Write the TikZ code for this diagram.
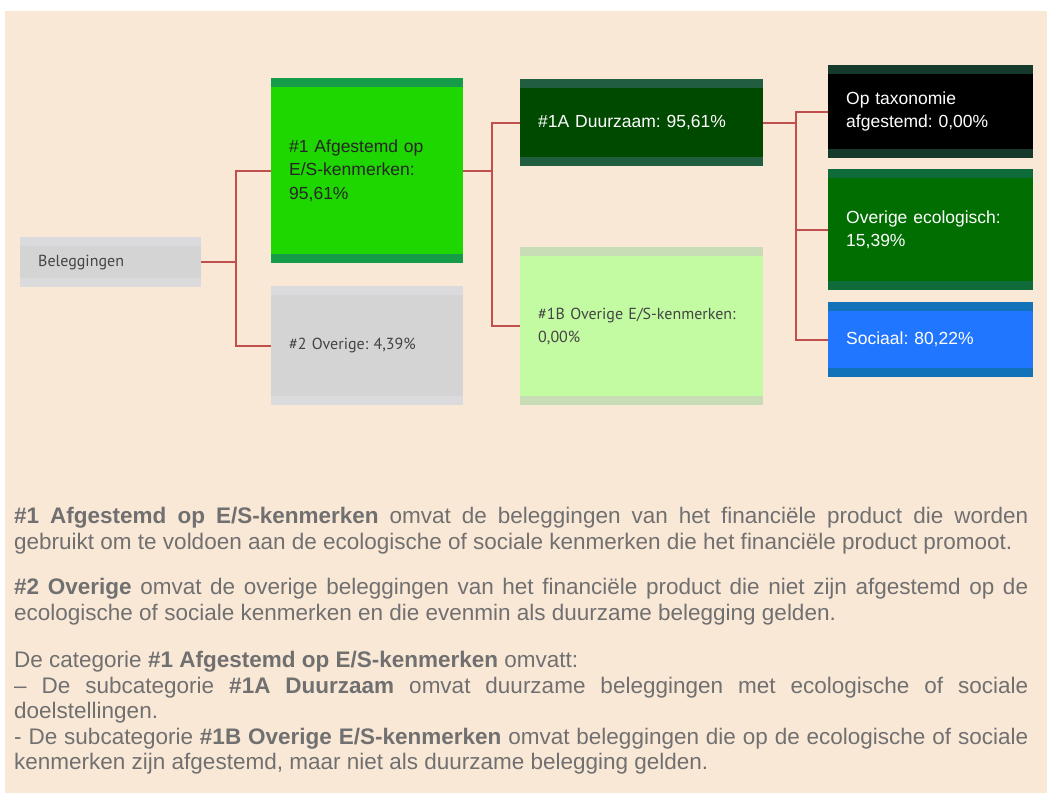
\documentclass[tikz,border=0pt]{standalone}
\usepackage{fontspec}
\setmainfont{Liberation Sans}
\newfontfamily\humfont{PT Sans}
\usetikzlibrary{positioning}
\setlength{\parindent}{0pt}
\hyphenpenalty=10000
\tolerance=9999
\frenchspacing

\definecolor{peach}{HTML}{FAE8D7}
\definecolor{linered}{HTML}{C0504D}
\definecolor{txtgray}{HTML}{444444}
\definecolor{notegray}{HTML}{707070}
\definecolor{grayband}{HTML}{DBDBDD}
\definecolor{graybody}{HTML}{D4D4D4}
\definecolor{esband}{HTML}{169B48}
\definecolor{esbody}{HTML}{1ED700}
\definecolor{dzband}{HTML}{215E3F}
\definecolor{dzbody}{HTML}{004A00}
\definecolor{oesband}{HTML}{C8DDB6}
\definecolor{oesbody}{HTML}{C3FBA3}
\definecolor{taxband}{HTML}{15392A}
\definecolor{ecoband}{HTML}{106B3A}
\definecolor{ecobody}{HTML}{006E00}
\definecolor{socband}{HTML}{1171B9}
\definecolor{socbody}{HTML}{2176FF}

\tikzset{
  catbox/.style 2 args={rectangle, fill=#1, anchor=north west, inner xsep=18pt, inner ysep=0pt, align=left,
    path picture={\fill[#2] ([yshift=-9pt]path picture bounding box.north west) rectangle ([yshift=9pt]path picture bounding box.south east);}},
  link/.style={draw=linered, line width=2pt},
  boxtxt/.style={font=\fontsize{17.5}{23.5}\selectfont},
  humtxt/.style={font=\humfont\fontsize{16}{23}\selectfont, text=txtgray},
  note/.style={anchor=north west, inner sep=0pt, text width=1014pt, align=justify, text=notegray,
    font=\fontsize{22.5}{25.5}\selectfont},
}

\begin{document}
\begin{tikzpicture}[x=1pt,y=-1pt]
\useasboundingbox (0,0) rectangle (1047,793);
\fill[peach] (5,11) rectangle (1047,793);
% Boxes
\node[catbox={grayband}{graybody}, humtxt, text width=145pt, minimum height=50pt] (bel) at (20,237) {Beleggingen};
\node[catbox={esband}{esbody}, boxtxt, text=black!85, text width=156pt, minimum height=185pt] (es) at (271,78) {\#1 Afgestemd op\\E/S-kenmerken:\\95,61\%};
\node[catbox={grayband}{graybody}, humtxt, text width=156pt, minimum height=119pt] (ov) at (271,286) {\#2 Overige: 4,39\%};
\node[catbox={dzband}{dzbody}, boxtxt, text=white, text width=207pt, minimum height=87pt] (dz) at (520,79) {\#1A Duurzaam: 95,61\%};
\node[catbox={oesband}{oesbody}, humtxt, text width=207pt, minimum height=158pt] (oes) at (520,247) {\#1B Overige E/S-kenmerken:\\0,00\%};
\node[catbox={taxband}{black}, boxtxt, text=white, text width=169pt, minimum height=93pt] (tax) at (828,65) {Op taxonomie\\afgestemd: 0,00\%};
\node[catbox={ecoband}{ecobody}, boxtxt, text=white, text width=169pt, minimum height=121pt] (eco) at (828,169) {Overige ecologisch:\\15,39\%};
\node[catbox={socband}{socbody}, boxtxt, text=white, text width=169pt, minimum height=75pt] (soc) at (828,302) {Sociaal: 80,22\%};
% Connectors
\draw[link] (bel.east) -- ++(35,0) |- (es.west);
\draw[link] (bel.east) -- ++(35,0) |- (ov.west);
\draw[link] (es.east) -- ++(29,0) |- (dz.west);
\draw[link] (es.east) -- ++(29,0) |- (oes.west);
\draw[link] (dz.east) -- ++(33,0) |- (tax.west);
\draw[link] (dz.east) -- ++(33,0) |- (eco.west);
\draw[link] (dz.east) -- ++(33,0) |- (soc.west);
% Explanation
\node[note] (n1) at (14,507) {\textbf{\#1 Afgestemd op E/S-kenmerken} omvat de beleggingen van het financiële product die worden\linebreak gebruikt om te voldoen aan de ecologische of sociale kenmerken die het financiële product promoot.};
\node[note] (n2) at (14,578) {\textbf{\#2 Overige} omvat de overige beleggingen van het financiële product die niet zijn afgestemd op de\linebreak ecologische of sociale kenmerken en die evenmin als duurzame belegging gelden.};
\node[note] (n3) at (14,651) {De categorie \textbf{\#1 Afgestemd op E/S-kenmerken} omvatt:\par
– De subcategorie \textbf{\#1A Duurzaam} omvat duurzame beleggingen met ecologische of sociale\linebreak doelstellingen.\par
- De subcategorie \textbf{\#1B Overige E/S-kenmerken} omvat beleggingen die op de ecologische of sociale\linebreak kenmerken zijn afgestemd, maar niet als duurzame belegging gelden.};
\end{tikzpicture}
\end{document}
